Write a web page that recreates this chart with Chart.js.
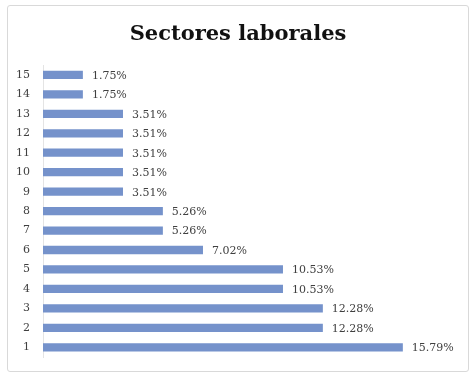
<!DOCTYPE html>
<html>
<head>
<meta charset="utf-8">
<script src="https://cdn.jsdelivr.net/npm/chart.js@4.4.1/dist/chart.umd.min.js"></script>
<style>
  html, body { margin: 0; padding: 0; background: #fff; }
  #wrap { position: relative; width: 476px; height: 378px; }
  #frame { position: absolute; left: 7px; top: 5px; width: 462px; height: 367px;
           border: 1px solid #d9d9d9; border-radius: 3px; box-sizing: border-box; }
  #chart { position: absolute; left: 0; top: 0; }
</style>
</head>
<body>
<div id="wrap">
  <div id="frame"></div>
  <canvas id="chart" width="476" height="378"></canvas>
</div>
<script>
const sectores = ['1', '2', '3', '4', '5', '6', '7', '8', '9', '10', '11', '12', '13', '14', '15']
const porcentajes = [15.79, 12.28, 12.28, 10.53, 10.53, 7.02, 5.26, 5.26, 3.51, 3.51, 3.51, 3.51, 3.51, 1.75, 1.75]

const serif = "'DejaVu Serif', 'Liberation Serif', serif"

// draws the value at the end of every bar
const barLabels = {
    id: 'barLabels',
    afterDatasetsDraw(chart) {
        const ctx = chart.ctx
        const meta = chart.getDatasetMeta(0)
        ctx.save()
        ctx.font = '11px ' + serif
        ctx.fillStyle = '#404040'
        ctx.textBaseline = 'middle'
        ctx.textAlign = 'left'
        meta.data.forEach((bar, i) => {
            const val = chart.data.datasets[0].data[i]
            ctx.fillText(val.toFixed(2) + '%', bar.x + 9, bar.y + 1)
        })
        ctx.restore()
    }
}

const config = {
    type: 'bar',
    data: {
        labels: sectores,
        datasets: [{
            label: 'Sectores laborales',
            data: porcentajes,
            backgroundColor: '#7592cb',
            barPercentage: 0.85,
            categoryPercentage: 0.5
        }]
    },
    options: {
        indexAxis: 'y',
        responsive: false,
        animation: false,
        layout: { padding: { left: 0, right: 0, top: 0, bottom: 21 } },
        plugins: {
            legend: { display: false },
            tooltip: { enabled: false },
            title: {
                display: true,
                text: 'Sectores laborales',
                color: '#111',
                font: { family: serif, size: 21, weight: 'bold' },
                padding: { top: 22, bottom: 18 }
            }
        },
        scales: {
            x: { display: false, min: 0, max: 19 },
            y: {
                reverse: true,
                afterFit(scale) { scale.width = 43 },
                grid: { display: false, drawTicks: false },
                border: { display: true, color: '#e4e4e4' },
                ticks: {
                    color: '#404040',
                    padding: 13,
                    font: { family: serif, size: 11 }
                }
            }
        }
    },
    plugins: [barLabels]
}

new Chart(document.getElementById('chart').getContext('2d'), config)
</script>
</body>
</html>
